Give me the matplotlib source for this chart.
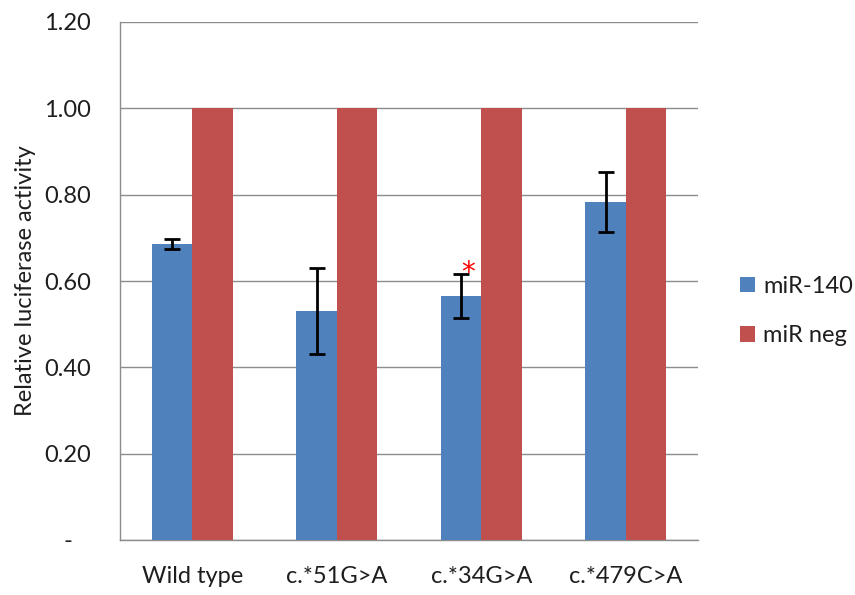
import matplotlib
matplotlib.use("Agg")
import matplotlib.pyplot as plt
import numpy as np

plt.rcParams['font.family'] = ['Lato', 'DejaVu Sans']

categories = ["Wild type", "c.*51G>A", "c.*34G>A", "c.*479C>A"]
mir140 = [0.686, 0.530, 0.566, 0.783]
mir140_err = [0.012, 0.100, 0.051, 0.070]
mirneg = [1.00, 1.00, 1.00, 1.00]
yticks = [0.0, 0.2, 0.4, 0.6, 0.8, 1.0, 1.2]
ytick_labels = ["-   ", "0.20", "0.40", "0.60", "0.80", "1.00", "1.20"]
significant = [False, False, True, False]

blue = "#4F81BD"
red = "#C0504D"
grid_col = "#8C8C8C"
text_col = "#1E1E1E"
fs = 17

fig = plt.figure(figsize=(8.55, 5.95), dpi=100)
ax = fig.add_axes([120/855, 1 - 540/595, (698 - 120)/855, (540 - 22)/595])

x = np.arange(len(categories))
w = 0.28
ax.bar(x - w/2, mir140, width=w, color=blue, label="miR-140", zorder=3)
ax.bar(x + w/2, mirneg, width=w, color=red, label="miR neg", zorder=3)
ax.errorbar(x - w/2, mir140, yerr=mir140_err, fmt="none", ecolor="black",
            elinewidth=2, capsize=6, capthick=2, zorder=4)

# significance marker above the error bar
for xi, v, e, s in zip(x, mir140, mir140_err, significant):
    if s:
        ax.text(xi - w/2 + 0.05, v + e - 0.018, "*", color="red",
                family="DejaVu Sans", fontsize=20, ha="center",
                va="baseline", zorder=5)

ax.set_xlim(-0.5, len(categories) - 0.5)
ax.set_ylim(0, 1.2)
ax.set_yticks(yticks)
ax.set_yticklabels(ytick_labels)
ax.set_xticks(x)
ax.set_xticklabels(categories)
ax.tick_params(axis="both", length=0, labelsize=fs, colors=text_col)
ax.tick_params(axis="y", pad=21)
ax.tick_params(axis="x", pad=19)
ax.yaxis.grid(True, color=grid_col, linewidth=1.0, zorder=0)
ax.set_axisbelow(True)
for side in ("top", "right"):
    ax.spines[side].set_visible(False)
for side in ("left", "bottom"):
    ax.spines[side].set_color(grid_col)
    ax.spines[side].set_linewidth(1.0)

ax.set_ylabel("Relative luciferase activity", fontsize=fs, color=text_col,
              labelpad=6)

fig.legend(*ax.get_legend_handles_labels(), loc="center left",
           bbox_to_anchor=(0.8545, 0.4773), borderaxespad=0, frameon=False,
           fontsize=fs, labelspacing=1.2, handlelength=0.64,
           handleheight=0.64, handletextpad=0.35, labelcolor=text_col)

fig.savefig("out.png", dpi=100)
